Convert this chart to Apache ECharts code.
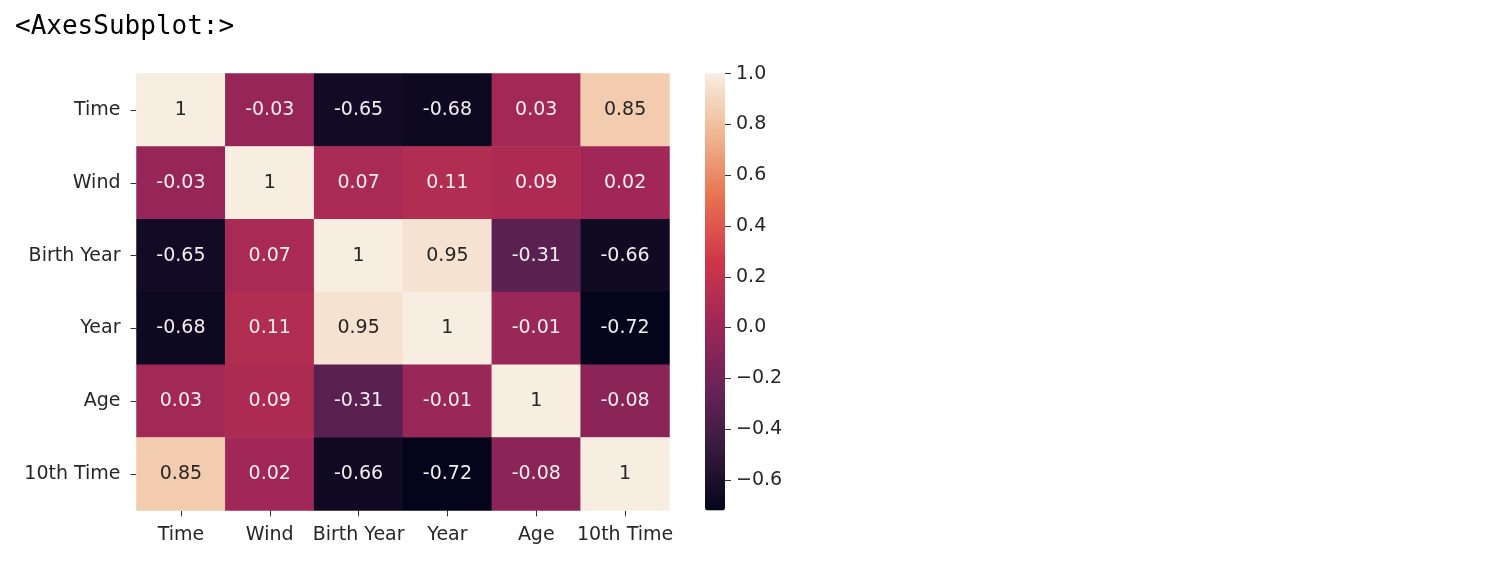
<!DOCTYPE html>
<html>
<head>
<meta charset="utf-8">
<script src="https://cdn.jsdelivr.net/npm/echarts@6/dist/echarts.min.js"></script>
<style>
html,body{margin:0;padding:0;background:#fff;}
#chart{width:1504px;height:570px;}
</style>
</head>
<body>
<div id="chart"></div>
<script>
const titleText = '<AxesSubplot:>';
const categories = ['Time', 'Wind', 'Birth Year', 'Year', 'Age', '10th Time'];
const rowTime      = [1, -0.03, -0.65, -0.68, 0.03, 0.85];
const rowWind      = [-0.03, 1, 0.07, 0.11, 0.09, 0.02];
const rowBirthYear = [-0.65, 0.07, 1, 0.95, -0.31, -0.66];
const rowYear      = [-0.68, 0.11, 0.95, 1, -0.01, -0.72];
const rowAge       = [0.03, 0.09, -0.31, -0.01, 1, -0.08];
const row10thTime  = [0.85, 0.02, -0.66, -0.72, -0.08, 1];
const colorMin = -0.72;
const colorMax = 1.0;
const colorbarTicks = [-0.6, -0.4, -0.2, 0.0, 0.2, 0.4, 0.6, 0.8, 1.0];
const rocket = ['#04051a', '#371b3f', '#6c2358', '#9f2757', '#cf364a', '#e8704f', '#efb58f', '#f8ede1'];

const rows = [rowTime, rowWind, rowBirthYear, rowYear, rowAge, row10thTime];

function hexToRgb(h) {
  return [parseInt(h.slice(1,3),16), parseInt(h.slice(3,5),16), parseInt(h.slice(5,7),16)];
}
function colorAt(v) {
  let t = (v - colorMin) / (colorMax - colorMin);
  t = Math.max(0, Math.min(1, t));
  const n = rocket.length - 1;
  const i = Math.min(n - 1, Math.floor(t * n));
  const f = t * n - i;
  const a = hexToRgb(rocket[i]), b = hexToRgb(rocket[i+1]);
  return a.map((c, k) => c + (b[k] - c) * f);
}
function luminance(rgb) {
  const c = rgb.map(x => {
    x = x / 255;
    return x <= 0.03928 ? x / 12.92 : Math.pow((x + 0.055) / 1.055, 2.4);
  });
  return 0.2126 * c[0] + 0.7152 * c[1] + 0.0722 * c[2];
}

const data = [];
rows.forEach((row, yi) => {
  row.forEach((v, xi) => {
    const lum = luminance(colorAt(v));
    data.push({
      value: [xi, yi, v],
      label: { color: lum > 0.408 ? '#262626' : '#f2eef0' }
    });
  });
});

const fontFamily = 'DejaVu Sans';
const textColor = '#262626';

const chart = echarts.init(document.getElementById('chart'));
chart.setOption({
  animation: false,
  backgroundColor: '#ffffff',
  graphic: [{
    type: 'text',
    left: 15,
    top: 14,
    style: {
      text: titleText,
      font: '26px "DejaVu Sans Mono", monospace',
      fill: '#000000'
    }
  }],
  grid: [
    { left: 136.5, top: 73.6, width: 533, height: 436.8, containLabel: false },
    { left: 705, top: 73.6, width: 20, height: 436.8, containLabel: false }
  ],
  xAxis: [
    {
      gridIndex: 0,
      type: 'category',
      data: categories,
      axisLine: { show: false },
      axisTick: { show: true, alignWithLabel: true, length: 6, lineStyle: { color: '#333' } },
      axisLabel: { fontFamily: fontFamily, fontSize: 19, color: textColor, margin: 15, interval: 0 },
      splitLine: { show: false },
      splitArea: { show: false }
    },
    {
      gridIndex: 1,
      type: 'category',
      data: [''],
      show: false
    }
  ],
  yAxis: [
    {
      gridIndex: 0,
      type: 'category',
      data: categories,
      inverse: true,
      axisLine: { show: false },
      axisTick: { show: true, alignWithLabel: true, length: 6, lineStyle: { color: '#333' } },
      axisLabel: { fontFamily: fontFamily, fontSize: 19, color: textColor, margin: 16, interval: 0 },
      splitLine: { show: false },
      splitArea: { show: false }
    },
    {
      gridIndex: 1,
      type: 'value',
      position: 'right',
      min: colorMin,
      max: colorMax,
      axisLine: { show: false },
      splitLine: { show: false },
      axisTick: { show: true, length: 6, lineStyle: { color: '#333' }, customValues: colorbarTicks },
      axisLabel: {
        show: true,
        fontFamily: fontFamily, fontSize: 19, color: textColor, margin: 11,
        customValues: colorbarTicks,
        formatter: function (v) {
          const s = Math.abs(v).toFixed(1);
          return v < -1e-9 ? '\u2212' + s : s;
        }
      }
    }
  ],
  visualMap: {
    type: 'continuous',
    min: colorMin,
    max: colorMax,
    seriesIndex: 0,
    dimension: 2,
    calculable: false,
    hoverLink: false,
    realtime: false,
    orient: 'vertical',
    left: 705,
    top: 73.6,
    itemWidth: 20,
    itemHeight: 436.8,
    padding: 0,
    text: null,
    showLabel: false,
    inRange: { color: rocket }
  },
  series: [{
    type: 'heatmap',
    xAxisIndex: 0,
    yAxisIndex: 0,
    data: data,
    label: {
      show: true,
      fontFamily: fontFamily,
      fontSize: 19,
      formatter: function (p) { return String(p.value[2]); }
    },
    itemStyle: { borderWidth: 0 },
    emphasis: { disabled: true }
  }]
});
</script>
</body>
</html>
